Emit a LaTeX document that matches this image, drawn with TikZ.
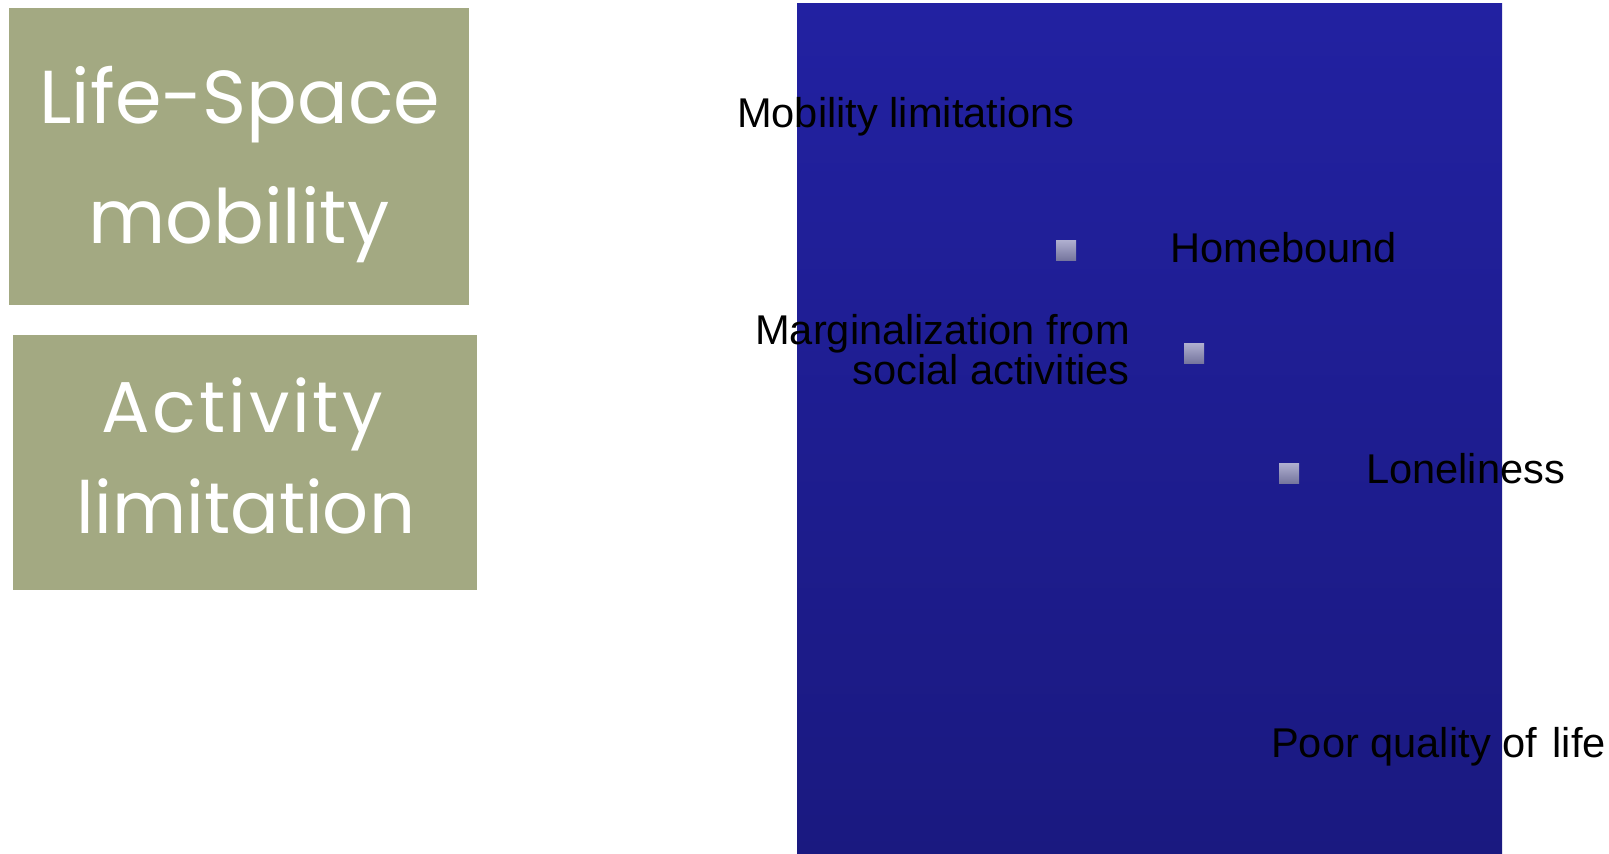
\documentclass[tikz,border=0pt]{standalone}
\usepackage{fontspec}
\newfontfamily\labelfont{Liberation Sans}
\newfontfamily\boxfont{Poppins}
\definecolor{sage}{RGB}{163,169,130}
\definecolor{navytop}{RGB}{34,33,161}
\definecolor{navybot}{RGB}{26,25,128}
\definecolor{bullettop}{RGB}{176,176,208}
\definecolor{bulletbot}{RGB}{118,118,158}
\tikzset{
  panel/.style={fill=sage, draw=none},
  boxtextA/.style={inner sep=0pt, text=white, font=\boxfont\fontsize{75bp}{75bp}\selectfont},
  boxtextB/.style={inner sep=0pt, text=white, font=\boxfont\fontsize{72bp}{72bp}\selectfont},
  item/.style={inner sep=0pt, text=black, font=\labelfont\fontsize{41.6bp}{41.6bp}\selectfont},
  bullet/.style={inner sep=0pt, minimum size=20bp, draw=none, top color=bullettop, bottom color=bulletbot},
}
\begin{document}
\begin{tikzpicture}[x=1bp, y=-1bp]
  \useasboundingbox (0,0) rectangle (1609,853);
  \fill[white] (0,0) rectangle (1609,853);

  % left-hand concept boxes
  \path[panel] (9,8) rectangle (469,305);
  \node[boxtextA, anchor=base] (lsA) at (240,123) {Life-Space};
  \node[boxtextA, anchor=base] (lsB) at (239,243) {mobility};

  \path[panel] (13,335) rectangle (477,590);
  \node[boxtextB, anchor=base] (alA) at (242,432) {\addfontfeatures{LetterSpace=4}Activity};
  \node[boxtextB, anchor=base] (alB) at (246,533) {limitation};

  % shaded backdrop of the cascade
  \shade[top color=navytop, bottom color=navybot] (797,3) rectangle (1502,853);

  % bullets
  \node[bullet] (b1) at (1066,250) {};
  \node[bullet] (b2) at (1194,353) {};
  \node[bullet] (b3) at (1289,473) {};

  % cascade labels
  \node[item, anchor=base west] (mob) at (737,127) {Mobility limitations};
  \node[item, anchor=base west] (home) at (1170,262) {Homebound};
  \node[item, anchor=base east] (margA) at (1130,344) {Marginalization from};
  \node[item, anchor=base east] (margB) at (1130,384) {social activities};
  \node[item, anchor=base west] (lone) at (1366,483) {Loneliness};
  \node[item, anchor=base west] (qol) at (1271,757) {Poor quality of\hspace{4bp} life};
\end{tikzpicture}
\end{document}
